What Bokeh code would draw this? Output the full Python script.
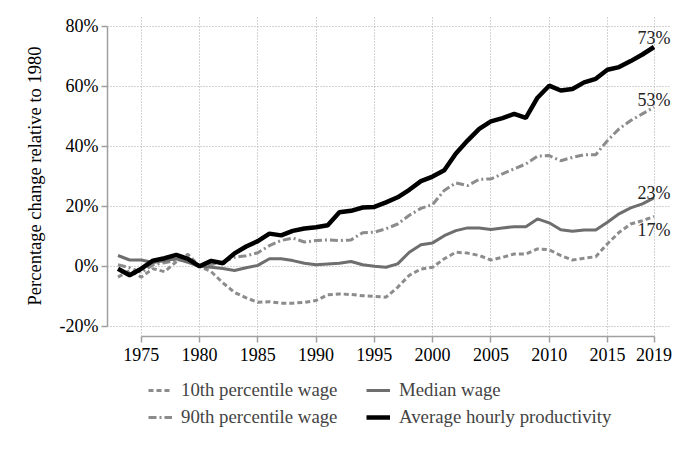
from bokeh.plotting import figure
from bokeh.layouts import column
from bokeh.models import (ColumnDataSource, FixedTicker, Legend, LegendItem,
                          LabelSet, Range1d)
from bokeh.embed import file_html
from bokeh.resources import INLINE

years = list(range(1973, 2020))

p10 = [-3.6, -1.4, -3.6, -0.8, -1.8, 1.5, 4.0, 0.0,
       -1.8, -5.5, -8.7, -10.5, -12.0, -11.8, -12.3, -12.3, -12.0, -11.4,
       -9.5, -9.2, -9.4, -9.8, -10.0, -10.3, -7.0, -3.0, -0.9, -0.3,
       2.5, 4.7, 4.4, 3.6, 2.1, 3.0, 4.1, 4.1, 5.8, 5.5,
       3.6, 2.1, 2.7, 3.2, 7.5, 11.3, 14.1, 15.2, 16.6]

p90 = [0.5, -0.5, -2.0, 0.5, 1.2, 2.0, 2.5, 0.0,
       0.5, 1.5, 3.0, 3.5, 4.5, 6.9, 8.6, 9.4, 8.1, 8.6,
       8.8, 8.6, 8.8, 11.2, 11.4, 12.5, 14.1, 17.0, 19.3, 20.6,
       25.3, 27.8, 26.9, 29.0, 29.1, 30.8, 32.5, 34.1, 36.7, 36.9,
       35.2, 36.3, 37.2, 37.2, 41.9, 45.8, 48.6, 50.8, 53.0]

median = [3.6, 2.1, 2.1, 1.3, 1.9, 2.5, 1.3, 0.0,
          -0.3, -0.7, -1.4, -0.5, 0.3, 2.5, 2.5, 1.9, 1.0, 0.5,
          0.8, 1.0, 1.6, 0.5, 0.0, -0.3, 0.8, 4.7, 7.2, 7.8,
          10.2, 11.9, 12.8, 12.8, 12.3, 12.8, 13.2, 13.2, 15.8, 14.5,
          12.2, 11.7, 12.1, 12.1, 14.7, 17.5, 19.5, 20.8, 22.8]

productivity = [-0.8, -3.0, -0.8, 1.9, 2.7, 3.8, 2.5, 0.0,
                1.8, 1.0, 4.3, 6.6, 8.4, 10.9, 10.3, 11.8, 12.6, 13.0,
                13.7, 18.0, 18.5, 19.6, 19.8, 21.3, 23.0, 25.5, 28.4, 29.9,
                32.0, 37.6, 41.9, 45.8, 48.3, 49.4, 50.8, 49.5, 56.2, 60.2,
                58.6, 59.1, 61.3, 62.5, 65.5, 66.4, 68.4, 70.6, 73.1]

series_names = ["10th percentile wage", "90th percentile wage",
                "Median wage", "Average hourly productivity"]

x_ticks = [1975, 1980, 1985, 1990, 1995, 2000, 2005, 2010, 2015, 2019]
y_ticks = [-20, 0, 20, 40, 60, 80]
y_tick_labels = ["-20%", "0%", "20%", "40%", "60%", "80%"]
y_label = "Percentage change relative to 1980"

FONT = "Liberation Serif"
COLS = ["p10", "p90", "med", "prod"]
STYLES = [
    dict(line_color="#8c8c8c", line_width=3, line_dash="5 3"),      # 10th
    dict(line_color="#8c8c8c", line_width=3, line_dash="8 3 2 3"),  # 90th
    dict(line_color="#6e6e6e", line_width=3),                       # median
    dict(line_color="black", line_width=4.5),                       # productivity
]

p = figure(width=672, height=376, output_backend="svg", toolbar_location=None,
           x_range=Range1d(1972.1, 2020.5), y_range=Range1d(-23.4, 83.6),
           min_border_left=107, min_border_right=1, min_border_top=15,
           min_border_bottom=40)
p.outline_line_color = None
p.background_fill_color = "white"

src = ColumnDataSource(dict(year=years, p10=p10, p90=p90, med=median, prod=productivity))
for col, st in zip(COLS, STYLES):
    p.line("year", col, source=src, **st)

# axes
p.xaxis.ticker = FixedTicker(ticks=x_ticks)
p.yaxis.ticker = FixedTicker(ticks=y_ticks)
p.yaxis.major_label_overrides = {t: l for t, l in zip(y_ticks, y_tick_labels)}
p.xaxis.bounds = (x_ticks[0], x_ticks[-1])
p.yaxis.bounds = (y_ticks[0], y_ticks[-1])
for ax in (p.xaxis, p.yaxis):
    ax.axis_line_color = "#a0a0a0"
    ax.axis_line_width = 1.5
    ax.major_tick_line_color = "#a0a0a0"
    ax.major_tick_line_width = 1.5
    ax.major_tick_out = 6
    ax.major_tick_in = 0
    ax.minor_tick_line_color = None
    ax.major_label_text_font = FONT
    ax.major_label_text_font_size = "18px"
    ax.major_label_text_color = "black"
p.yaxis.major_label_standoff = 3
p.xaxis.major_label_standoff = 5
p.yaxis.axis_label = y_label
p.yaxis.axis_label_text_font = FONT
p.yaxis.axis_label_text_font_size = "18.5px"
p.yaxis.axis_label_text_font_style = "normal"
p.yaxis.axis_label_text_color = "black"
p.yaxis.axis_label_standoff = 12

for g in (p.xgrid, p.ygrid):
    g.grid_line_color = "#a8a8a8"
    g.grid_line_dash = "1 2"
    g.grid_line_width = 1

# end labels
last = [productivity[-1], p90[-1], median[-1], p10[-1]]
lab_src = ColumnDataSource(dict(
    x=[years[-1]] * 4,
    y=last,
    text=[f"{round(v)}%" for v in last],
    dy=[9, 7, 5, -13],
))
labels = LabelSet(x="x", y="y", text="text", source=lab_src, y_offset="dy",
                  text_align="center", text_baseline="middle",
                  text_font=FONT, text_font_size="18px", text_color="#222222")
p.add_layout(labels)

# legend in its own strip below the chart (same data, drawn out of view)
q = figure(width=672, height=60, output_backend="svg", toolbar_location=None,
           x_range=Range1d(0, 1), y_range=Range1d(0, 1),
           min_border_left=0, min_border_right=0, min_border_top=0,
           min_border_bottom=0)
q.axis.visible = False
q.grid.visible = False
q.outline_line_color = None
leg_r = [q.line("year", col, source=src, **st) for col, st in zip(COLS, STYLES)]

legend = Legend(items=[
    LegendItem(label=series_names[0], renderers=[leg_r[0]]),
    LegendItem(label=series_names[2], renderers=[leg_r[2]]),
    LegendItem(label=series_names[1], renderers=[leg_r[1]]),
    LegendItem(label=series_names[3], renderers=[leg_r[3]]),
], orientation="horizontal", ncols=2)
legend.label_text_font = FONT
legend.label_text_font_size = "18.8px"
legend.glyph_width = 24
legend.glyph_height = 20
legend.label_height = 21
legend.label_width = 180
legend.label_standoff = 9
legend.spacing = 5
legend.padding = 0
legend.margin = 0
legend.border_line_color = None
legend.background_fill_alpha = 0
legend.location = (41, 8)
q.add_layout(legend, "center")

open("out.html", "w").write(file_html(column(p, q, spacing=0), INLINE))
